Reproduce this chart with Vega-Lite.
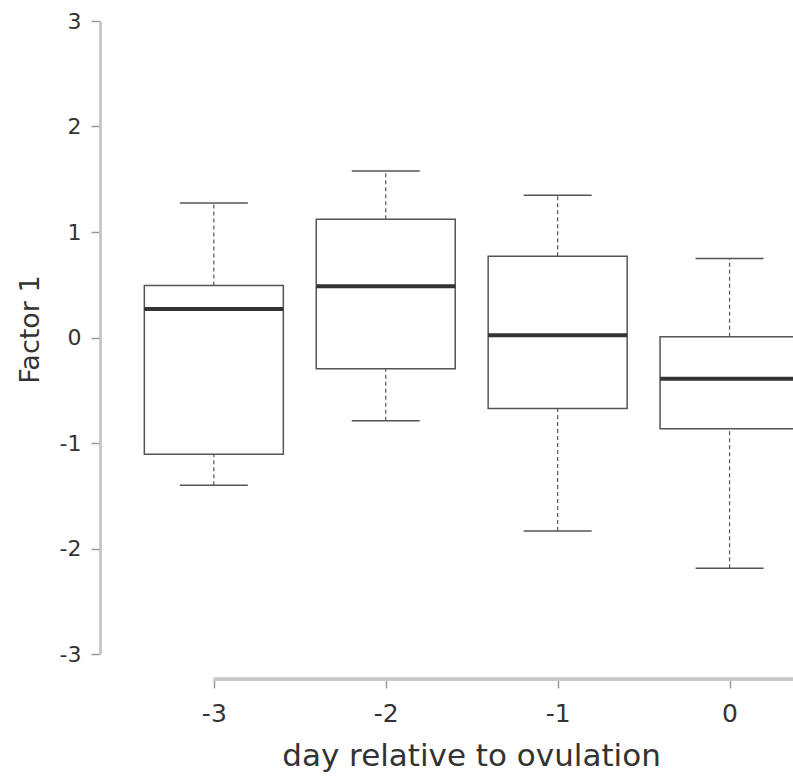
{
  "$schema": "https://vega.github.io/schema/vega-lite/v6.json",
  "width": 683,
  "height": 633,
  "autosize": {"type": "none"},
  "padding": {"left": 110, "top": 21, "right": 0, "bottom": 125},
  "background": "white",
  "config": {"view": {"stroke": null}, "font": "DejaVu Sans"},
  "data": {
    "values": [
      {"day": -3, "lower": -1.40, "q1": -1.106, "median": 0.271, "q3": 0.493, "upper": 1.275},
      {"day": -2, "lower": -0.790, "q1": -0.297, "median": 0.486, "q3": 1.121, "upper": 1.578},
      {"day": -1, "lower": -1.835, "q1": -0.673, "median": 0.022, "q3": 0.770, "upper": 1.348},
      {"day": 0, "lower": -2.188, "q1": -0.866, "median": -0.392, "q3": 0.006, "upper": 0.748}
    ]
  },
  "layer": [
    {
      "mark": {"type": "rule", "strokeDash": [4, 3], "color": "#555555", "strokeWidth": 1.2},
      "encoding": {
        "x": {
          "field": "day", "type": "quantitative",
          "scale": {"domain": [-3.604, 0.369], "nice": false, "zero": false, "padding": 0},
          "axis": {
            "values": [-3, -2, -1, 0], "offset": 25, "domain": false, "grid": false,
            "tickColor": "#999999", "tickWidth": 1.5, "tickSize": 9,
            "labelExpr": "datum.value + ''", "labelFontSize": 25, "labelColor": "#333333",
            "labelPadding": 13, "labelFlush": false,
            "title": "day relative to ovulation", "titleFontSize": 31, "titleFontWeight": "normal",
            "titleColor": "#333333", "titleX": 361, "titleY": 86, "titleBaseline": "alphabetic",
            "titleAlign": "center"
          }
        },
        "y": {
          "field": "q3", "type": "quantitative",
          "scale": {"domain": [-3, 3], "nice": false, "zero": false, "padding": 0},
          "axis": {
            "values": [-3, -2, -1, 0, 1, 2, 3], "offset": 10, "grid": false,
            "domainColor": "#c8c8c8", "domainWidth": 3, "domainCap": "butt",
            "tickColor": "#999999", "tickWidth": 1.5, "tickSize": 9,
            "labelExpr": "datum.value + ''", "labelFontSize": 22, "labelColor": "#333333",
            "labelPadding": 10, "labelFlush": false,
            "title": "Factor 1", "titleFontSize": 27, "titleFontWeight": "normal",
            "titleColor": "#333333", "titleX": -62, "titleY": 308, "titleBaseline": "alphabetic",
            "titleAlign": "center", "titleAngle": 270
          }
        },
        "y2": {"field": "upper"}
      }
    },
    {
      "mark": {"type": "rule", "strokeDash": [4, 3], "color": "#555555", "strokeWidth": 1.2},
      "encoding": {
        "x": {"field": "day", "type": "quantitative"},
        "y": {"field": "lower", "type": "quantitative"},
        "y2": {"field": "q1"}
      }
    },
    {
      "mark": {"type": "tick", "orient": "horizontal", "size": 68, "thickness": 1.5, "color": "#555555", "opacity": 1},
      "encoding": {
        "x": {"field": "day", "type": "quantitative"},
        "y": {"field": "upper", "type": "quantitative"}
      }
    },
    {
      "mark": {"type": "tick", "orient": "horizontal", "size": 68, "thickness": 1.5, "color": "#555555", "opacity": 1},
      "encoding": {
        "x": {"field": "day", "type": "quantitative"},
        "y": {"field": "lower", "type": "quantitative"}
      }
    },
    {
      "mark": {"type": "bar", "size": 139, "fill": "white", "stroke": "#555555", "strokeWidth": 1.5, "orient": "vertical"},
      "encoding": {
        "x": {"field": "day", "type": "quantitative"},
        "y": {"field": "q1", "type": "quantitative"},
        "y2": {"field": "q3"}
      }
    },
    {
      "mark": {"type": "tick", "orient": "horizontal", "size": 139, "thickness": 4, "color": "#333333", "opacity": 1},
      "encoding": {
        "x": {"field": "day", "type": "quantitative"},
        "y": {"field": "median", "type": "quantitative"}
      }
    },
    {
      "mark": {"type": "rule", "color": "#c8c8c8", "strokeWidth": 3, "strokeCap": "butt"},
      "encoding": {
        "x": {"datum": -3, "type": "quantitative"},
        "x2": {"datum": 0.5},
        "y": {"datum": -3.24, "type": "quantitative"}
      }
    }
  ]
}
